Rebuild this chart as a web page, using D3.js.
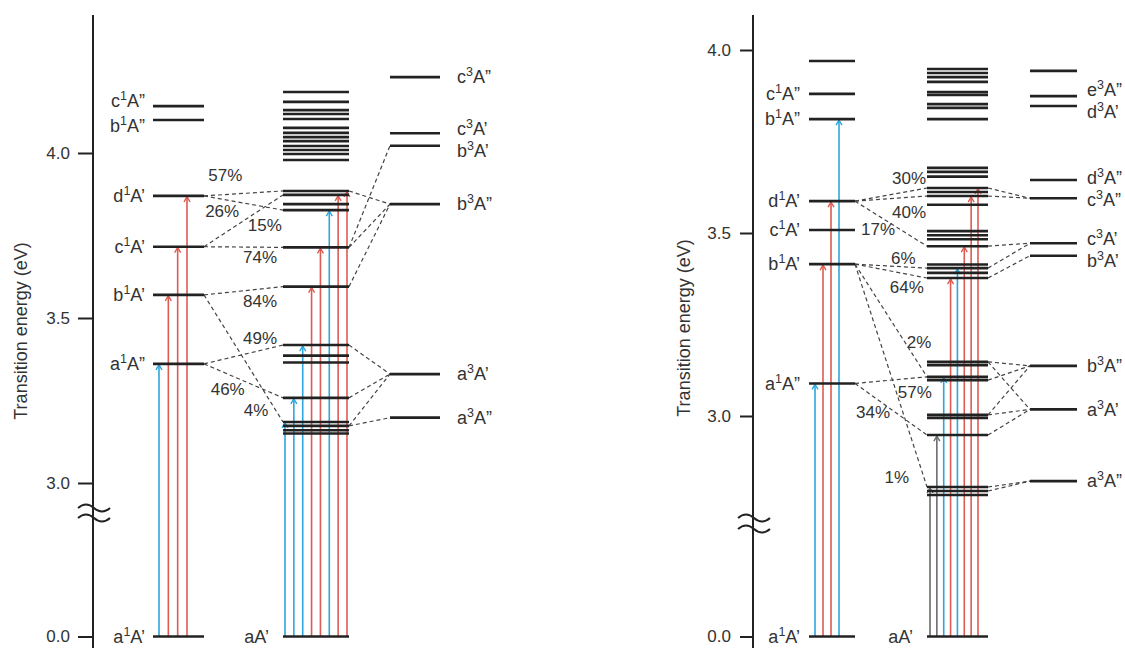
<!DOCTYPE html>
<html>
<head>
<meta charset="utf-8">
<script src="https://cdn.jsdelivr.net/npm/d3@7"></script>
<style>
  body { margin: 0; background: #fff; }
  svg text { font-family: 'Liberation Sans', Arial, Helvetica, sans-serif; fill: #333; }
</style>
</head>
<body>
<svg id="chart" width="1125" height="648"></svg>
<script>
// ---------- data: left panel ----------
const tickValues = [0.0, 3.0, 3.5, 4.0];

const leftSingletE   = [0.0, 3.361, 3.570, 3.716, 3.870, 4.100, 4.142];
const leftSingletLab = ["a1A’", "a1A”", "b1A’", "c1A’", "d1A’", "b1A”", "c1A”"];
const leftMixedE = [0.0, 3.150, 3.160, 3.173, 3.185, 3.258, 3.365, 3.386, 3.418, 3.595, 3.714,
  3.827, 3.845, 3.873, 3.885, 3.979, 3.997, 4.009, 4.021, 4.036, 4.048, 4.061, 4.076,
  4.103, 4.118, 4.130, 4.155, 4.185];
const leftTripletE   = [3.198, 3.330, 3.845, 4.022, 4.060, 4.230];
const leftTripletLab = ["a3A”", "a3A’", "b3A”", "b3A’", "c3A’", "c3A”"];
// singlet -> mixed, mixed -> triplet couplings (energies)
const leftSM = [[3.870, 3.885], [3.870, 3.827], [3.716, 3.873], [3.716, 3.714],
  [3.570, 3.595], [3.570, 3.185], [3.361, 3.418], [3.361, 3.258]];
const leftMT = [[3.885, 3.845], [3.714, 4.022], [3.714, 3.845], [3.595, 3.845],
  [3.418, 3.330], [3.258, 3.330], [3.173, 3.330], [3.173, 3.198]];
// percentage: text, energy, fraction across the gap
const leftPct = [["57%", 3.933, 0.27], ["26%", 3.824, 0.23], ["15%", 3.782, 0.77],
  ["74%", 3.685, 0.71], ["84%", 3.552, 0.71], ["49%", 3.439, 0.71],
  ["46%", 3.285, 0.30], ["4%", 3.221, 0.66]];
const leftSArrows = [[3.361, "blue"], [3.570, "red"], [3.716, "red"], [3.870, "red"]];
const leftMArrows = [[3.185, "blue"], [3.258, "blue"], [3.418, "blue"], [3.595, "red"],
  [3.714, "red"], [3.827, "blue"], [3.873, "red"], [3.885, "red"]];

// ---------- data: right panel ----------
const rightSingletE   = [0.0, 3.089, 3.415, 3.508, 3.587, 3.811, 3.880, 3.970];
const rightSingletLab = ["a1A’", "a1A”", "b1A’", "c1A’", "d1A’", "b1A”", "c1A”", ""];
const rightMixedE = [0.0, 2.784, 2.795, 2.806, 2.948, 2.995, 3.003, 3.098, 3.107, 3.139, 3.148,
  3.377, 3.391, 3.404, 3.414, 3.464, 3.483, 3.494, 3.505, 3.577, 3.601, 3.612, 3.623,
  3.654, 3.667, 3.678, 3.811, 3.842, 3.852, 3.877, 3.885, 3.913, 3.926, 3.937, 3.948];
const rightTripletE   = [2.822, 3.018, 3.137, 3.438, 3.472, 3.595, 3.645, 3.847, 3.874, 3.943];
const rightTripletLab = ["a3A”", "a3A’", "b3A”", "b3A’", "c3A’", "c3A”", "d3A”", "d3A’", "e3A”", ""];
const rightSM = [[3.587, 3.623], [3.587, 3.601], [3.587, 3.464], [3.415, 3.404], [3.415, 3.377],
  [3.415, 3.107], [3.415, 2.806], [3.089, 3.107], [3.089, 2.948]];
const rightMT = [[3.623, 3.595], [3.601, 3.595], [3.464, 3.472], [3.404, 3.472], [3.377, 3.438],
  [3.148, 3.137], [3.148, 3.018], [3.098, 3.137], [3.003, 3.137], [3.003, 3.018],
  [2.948, 3.018], [2.806, 2.822], [2.795, 2.822]];
const rightPct = [["30%", 3.650, 0.75], ["40%", 3.557, 0.75], ["17%", 3.511, 0.32],
  ["6%", 3.432, 0.67], ["64%", 3.352, 0.72], ["2%", 3.202, 0.89],
  ["57%", 3.066, 0.83], ["34%", 3.011, 0.25], ["1%", 2.833, 0.58]];
const rightSArrows = [[3.089, "blue"], [3.415, "red"], [3.587, "red"], [3.811, "blue"]];
const rightMArrows = [[2.806, "gray"], [2.948, "gray"], [3.107, "blue"], [3.377, "red"],
  [3.404, "blue"], [3.464, "red"], [3.601, "red"], [3.623, "red"]];

const COLORS = {blue: "#2ea6db", red: "#de5b53", gray: "#6b6b6b"};
const svg = d3.select("#chart");

function addLabel(g, x, y, s, anchor) {
  const m = s.match(/^([a-z])(\d)(.*)$/);
  const t = g.append("text")
    .attr("x", x).attr("y", y)
    .attr("text-anchor", anchor)
    .attr("dy", "0.35em")
    .style("font-size", "18px");
  if (!m) { t.text(s); return; }
  t.append("tspan").text(m[1]);
  t.append("tspan").attr("dy", -7).style("font-size", "12.5px").text(m[2]);
  t.append("tspan").attr("dy", 7).text(m[3]);
}

// push apart labels that sit too close
function spread(items, gap) {
  items.sort((a, b) => a.y - b.y);
  for (let k = 0; k < 20; k++) {
    for (let i = 0; i < items.length - 1; i++) {
      const d = items[i + 1].y - items[i].y;
      if (d < gap) {
        const s = (gap - d) / 2;
        items[i].y -= s;
        items[i + 1].y += s;
      }
    }
  }
  return items;
}

function drawPanel(p) {
  const g = svg.append("g");
  const y = p.y;
  const [cS, cM, cT] = p.cols;

  // axis
  g.append("line")
    .attr("x1", p.axisX).attr("x2", p.axisX)
    .attr("y1", 15).attr("y2", 648)
    .attr("stroke", "#222").attr("stroke-width", 2);

  const ax = g.append("g")
    .attr("transform", `translate(${p.axisX},0)`)
    .call(d3.axisLeft(y).tickValues(tickValues)
      .tickFormat(d3.format(".1f")).tickSize(p.tick).tickPadding(p.pad));
  ax.select(".domain").remove();
  ax.attr("font-family", null).attr("font-size", null);
  ax.selectAll("line").attr("stroke", "#222").attr("stroke-width", 2);
  ax.selectAll("text").style("font-size", "17px").attr("fill", "#333");

  // axis break
  [0, p.breakGap].forEach(dy => {
    g.append("path")
      .attr("d", `M${p.axisX - 15},${p.breakY + dy} q8,-7 16,0 t16,0`)
      .attr("fill", "none").attr("stroke", "#222").attr("stroke-width", 2);
  });

  g.append("text")
    .attr("transform", `translate(${p.titleX},${p.titleY}) rotate(-90)`)
    .attr("text-anchor", "middle")
    .style("font-size", "18px")
    .text("Transition energy (eV)");

  // dashed couplings
  const dash = (x1, e1, x2, e2) => g.append("line")
    .attr("x1", x1).attr("y1", y(e1)).attr("x2", x2).attr("y2", y(e2))
    .attr("stroke", "#444").attr("stroke-width", 1.2).attr("stroke-dasharray", "4,3");
  p.sm.forEach(([a, b]) => dash(cS[1], a, cM[0], b));
  p.mt.forEach(([a, b]) => dash(cM[1], a, cT[0], b));

  // excitation arrows
  const arrows = (list, range) => {
    const xs = d3.scalePoint().domain(d3.range(list.length)).range(range);
    list.forEach(([e, c], i) => {
      const x = xs(i), y0 = y(0), y1 = y(e) + 1;
      g.append("line")
        .attr("x1", x).attr("x2", x).attr("y1", y0).attr("y2", y1)
        .attr("stroke", COLORS[c]).attr("stroke-width", 1.6);
      g.append("path")
        .attr("d", `M${x - 3},${y1 + 5} L${x},${y1} L${x + 3},${y1 + 5}`)
        .attr("fill", "none").attr("stroke", COLORS[c]).attr("stroke-width", 1.4);
    });
  };
  arrows(p.sArrows, p.sArrowRange);
  arrows(p.mArrows, p.mArrowRange);

  // levels
  const level = (col, e) => g.append("line")
    .attr("x1", col[0]).attr("x2", col[1]).attr("y1", y(e)).attr("y2", y(e))
    .attr("stroke", "#222").attr("stroke-width", 2.6);
  p.sE.forEach(e => level(cS, e));
  p.mE.forEach(e => level(cM, e));
  p.tE.forEach(e => level(cT, e));

  // level labels
  const sLabs = spread(p.sE.map((e, i) => ({y: y(e), s: p.sLab[i]})).filter(d => d.s), 25);
  sLabs.forEach(d => addLabel(g, cS[0] - p.sLabGap, d.y, d.s, "end"));
  const tLabs = spread(p.tE.map((e, i) => ({y: y(e), s: p.tLab[i]})).filter(d => d.s), 22);
  tLabs.forEach(d => addLabel(g, cT[1] + p.tLabGap, d.y, d.s, "start"));
  addLabel(g, cM[0] - 14, y(0), "aA’", "end");

  // percentages
  p.pct.forEach(([t, e, f]) => {
    g.append("text")
      .attr("x", cS[1] + f * (cM[0] - cS[1]))
      .attr("y", y(e)).attr("dy", "0.35em")
      .attr("text-anchor", "middle")
      .style("font-size", "17px")
      .text(t);
  });
}

drawPanel({
  y: d3.scaleLinear().domain([0, 2.85, 4.4]).range([636.5, 532.5, 21]),
  axisX: 93, tick: 15, pad: 8,
  breakY: 508, breakGap: 10,
  titleX: 27, titleY: 331,
  cols: [[153, 204], [283, 349], [390, 440]],
  sE: leftSingletE, sLab: leftSingletLab,
  mE: leftMixedE,
  tE: leftTripletE, tLab: leftTripletLab,
  sm: leftSM, mt: leftMT, pct: leftPct,
  sArrows: leftSArrows, sArrowRange: [159, 187],
  mArrows: leftMArrows, mArrowRange: [285, 347],
  sLabGap: 8, tLabGap: 17
});

drawPanel({
  y: d3.scaleLinear().domain([0, 2.65, 4.1]).range([636.5, 544.1, 13.4]),
  axisX: 753, tick: 13, pad: 9,
  breakY: 518, breakGap: 11,
  titleX: 690, titleY: 328,
  cols: [[809, 855], [927, 988], [1030, 1077]],
  sE: rightSingletE, sLab: rightSingletLab,
  mE: rightMixedE,
  tE: rightTripletE, tLab: rightTripletLab,
  sm: rightSM, mt: rightMT, pct: rightPct,
  sArrows: rightSArrows, sArrowRange: [815, 839],
  mArrows: rightMArrows, mArrowRange: [930, 978],
  sLabGap: 9, tLabGap: 10
});
</script>
</body>
</html>
